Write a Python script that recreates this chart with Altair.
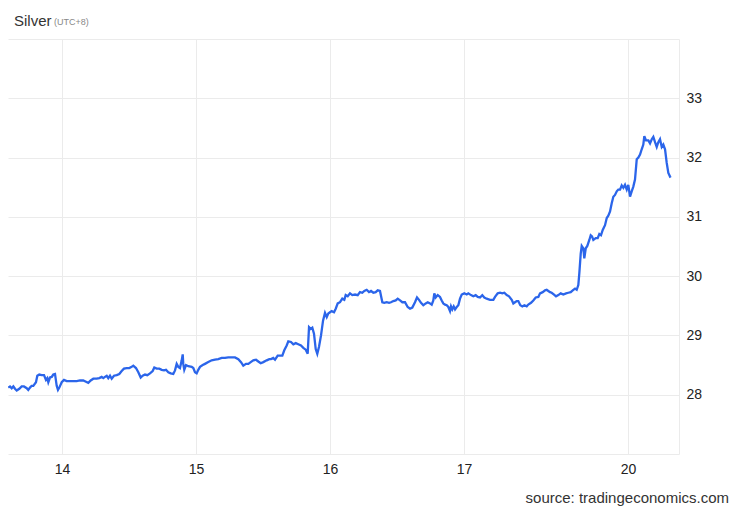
import altair as alt
import pandas as pd

# hours relative to midnight of the 14th (weekend removed, UTC+8)
hours = [
    -9.62, -9.31, -9.01, -8.72, -8.42, -8.11, -7.65, -7.22, -6.81, -6.32,
    -6.04, -5.73, -5.43, -5.14, -4.66, -4.42, -4.07, -3.64, -3.22, -2.87,
    -2.63, -2.45, -2.15, -1.84, -1.56, -1.25, -0.95, -0.72, -0.48, -0.05,
    0.36, 0.84, 1.43, 2.02, 2.63, 3.22, 3.81, 4.30, 4.71, 5.14,
    5.61, 6.21, 6.68, 7.11, 7.40, 7.70, 8.01, 8.29, 8.60, 8.90,
    9.31, 9.80, 10.26, 10.69, 11.10, 11.59, 12.05, 12.48, 12.77, 13.25,
    13.67, 14.10, 14.45, 14.87, 15.28, 15.76, 16.24, 16.53, 16.96, 17.43,
    17.86, 18.27, 18.63, 19.04, 19.47, 19.93, 20.24, 20.54, 20.83, 21.13,
    21.44, 21.62, 21.72, 21.90, 22.21, 22.62, 23.23, 23.52, 23.82, 24.12,
    24.41, 24.72, 25.20, 25.61, 26.20, 26.81, 27.40, 27.99, 28.60, 29.19,
    29.78, 30.39, 30.98, 31.58, 32.06, 32.47, 32.95, 33.37, 33.80, 34.26,
    34.75, 35.16, 35.59, 36.05, 36.66, 37.13, 37.43, 37.84, 38.15, 38.63,
    39.04, 39.46, 39.81, 40.24, 40.53, 41.01, 41.43, 41.86, 42.32, 42.80,
    43.22, 43.65, 44.00, 44.24, 44.54, 44.83, 45.13, 45.44, 45.72, 46.03,
    46.39, 46.75, 47.10, 47.41, 47.69, 48.00, 48.30, 48.72, 49.02, 49.38,
    49.79, 50.20, 50.56, 50.81, 51.17, 51.58, 51.99, 52.48, 52.96, 53.37,
    53.78, 54.14, 54.57, 54.98, 55.34, 55.75, 56.18, 56.54, 56.95, 57.37,
    57.72, 58.15, 58.57, 58.92, 59.34, 59.77, 60.12, 60.54, 60.95, 61.43,
    61.91, 62.33, 62.74, 63.22, 63.58, 63.94, 64.30, 64.71, 65.14, 65.50,
    65.91, 66.21, 66.50, 66.68, 66.93, 67.29, 67.70, 68.00, 68.29, 68.60,
    68.90, 69.19, 69.49, 69.67, 69.90, 70.15, 70.39, 70.69, 70.98, 71.28,
    71.59, 72.05, 72.48, 72.77, 73.25, 73.66, 74.09, 74.45, 74.86, 75.27,
    75.63, 76.06, 76.65, 77.25, 77.55, 78.03, 78.45, 78.86, 79.22, 79.65,
    80.06, 80.54, 80.83, 81.13, 81.44, 81.72, 82.08, 82.44, 82.80, 83.23,
    83.51, 84.00, 84.41, 84.84, 85.31, 85.61, 86.09, 86.51, 86.81, 87.10,
    87.40, 87.70, 88.12, 88.48, 88.89, 89.32, 89.78, 90.27, 90.68, 91.11,
    91.47, 91.88, 92.18, 92.47, 92.65, 92.90, 93.08, 93.37, 93.54, 93.80,
    94.08, 94.44, 94.69, 94.92, 95.16, 95.59, 95.94, 96.23, 96.53, 96.84,
    97.25, 97.56, 97.84, 98.15, 98.45, 98.74, 99.04, 99.35, 99.63, 99.94,
    100.24, 100.53, 100.83, 101.14, 101.42, 101.73, 102.03, 102.32, 102.62, 102.93,
    103.22, 103.52, 103.82, 104.11, 104.29, 104.59, 105.01, 105.31, 105.62, 105.90,
    106.21, 106.51, 106.80, 107.10, 107.41, 107.69, 108.00, 108.30, 108.59, 108.89,
    109.07,
]

prices = [
    28.12, 28.14, 28.11, 28.14, 28.10, 28.07, 28.10, 28.14, 28.14, 28.11,
    28.08, 28.12, 28.15, 28.15, 28.21, 28.32, 28.34, 28.33, 28.33, 28.25,
    28.28, 28.21, 28.29, 28.30, 28.34, 28.35, 28.15, 28.08, 28.12, 28.21,
    28.25, 28.23, 28.23, 28.23, 28.23, 28.24, 28.24, 28.22, 28.20, 28.24,
    28.27, 28.27, 28.28, 28.30, 28.28, 28.30, 28.32, 28.28, 28.32, 28.27,
    28.32, 28.33, 28.35, 28.40, 28.44, 28.45, 28.45, 28.47, 28.49, 28.45,
    28.38, 28.29, 28.32, 28.34, 28.33, 28.36, 28.40, 28.46, 28.44, 28.44,
    28.42, 28.41, 28.42, 28.38, 28.36, 28.35, 28.41, 28.52, 28.47, 28.45,
    28.58, 28.68, 28.52, 28.42, 28.50, 28.48, 28.47, 28.45, 28.38, 28.36,
    28.42, 28.47, 28.50, 28.52, 28.55, 28.58, 28.59, 28.60, 28.62, 28.62,
    28.63, 28.63, 28.63, 28.60, 28.55, 28.49, 28.52, 28.52, 28.55, 28.58,
    28.59, 28.56, 28.53, 28.55, 28.58, 28.60, 28.60, 28.62, 28.59, 28.66,
    28.66, 28.66, 28.75, 28.83, 28.90, 28.89, 28.85, 28.87, 28.85, 28.83,
    28.79, 28.76, 28.69, 29.14, 29.11, 29.13, 29.03, 28.77, 28.69, 28.81,
    29.00, 29.25, 29.38, 29.31, 29.37, 29.39, 29.41, 29.39, 29.45, 29.54,
    29.56, 29.62, 29.60, 29.68, 29.66, 29.71, 29.68, 29.69, 29.68, 29.73,
    29.72, 29.75, 29.77, 29.73, 29.75, 29.72, 29.73, 29.76, 29.75, 29.56,
    29.55, 29.56, 29.55, 29.56, 29.58, 29.59, 29.62, 29.59, 29.56, 29.56,
    29.48, 29.45, 29.47, 29.56, 29.64, 29.60, 29.55, 29.51, 29.54, 29.56,
    29.54, 29.52, 29.59, 29.71, 29.64, 29.68, 29.65, 29.59, 29.54, 29.52,
    29.51, 29.48, 29.41, 29.49, 29.44, 29.49, 29.44, 29.48, 29.51, 29.62,
    29.69, 29.71, 29.69, 29.71, 29.68, 29.66, 29.68, 29.65, 29.64, 29.68,
    29.64, 29.62, 29.60, 29.60, 29.65, 29.71, 29.72, 29.71, 29.72, 29.68,
    29.66, 29.60, 29.54, 29.56, 29.58, 29.58, 29.51, 29.49, 29.51, 29.49,
    29.52, 29.55, 29.59, 29.64, 29.65, 29.71, 29.73, 29.76, 29.77, 29.75,
    29.73, 29.72, 29.69, 29.66, 29.68, 29.71, 29.69, 29.71, 29.72, 29.73,
    29.76, 29.79, 29.77, 29.85, 30.05, 30.38, 30.51, 30.47, 30.30, 30.47,
    30.51, 30.61, 30.69, 30.67, 30.61, 30.64, 30.64, 30.71, 30.69, 30.78,
    30.86, 30.98, 31.02, 31.09, 31.23, 31.34, 31.37, 31.43, 31.46, 31.46,
    31.53, 31.49, 31.54, 31.46, 31.54, 31.34, 31.43, 31.51, 31.63, 31.97,
    32.00, 32.05, 32.14, 32.22, 32.36, 32.29, 32.29, 32.24, 32.31, 32.35,
    32.26, 32.18, 32.26, 32.31, 32.18, 32.22, 32.14, 31.91, 31.74, 31.68,
    31.69,
]

# x axis: day labels and where each day starts (hours), plus the right edge
x_tick_pos = [0, 24, 48, 72, 101.37, 110.5]
x_tick_labels = ["14", "15", "16", "17", "20", ""]
x_domain = [-9.67, 110.5]

y_ticks = [27, 28, 29, 30, 31, 32, 33, 34]
y_labelled = [28, 29, 30, 31, 32, 33]
y_domain = [27, 34]

title_text = "Silver"
tz_text = "(UTC+8)"
source_text = "source: tradingeconomics.com"

df = pd.DataFrame({"h": hours, "price": prices})

label_expr = ""
for p, l in zip(x_tick_pos, x_tick_labels):
    label_expr += f"datum.value == {p} ? '{l}' : "
label_expr += "''"

y_expr = f"datum.value >= {min(y_labelled)} && datum.value <= {max(y_labelled)} ? datum.label : ''"

FONT = "Liberation Sans"
W, H = 671, 415

line = alt.Chart(df).mark_line(color="#2b65ea", strokeWidth=2.3).encode(
    x=alt.X(
        "h:Q",
        scale=alt.Scale(domain=x_domain, nice=False, zero=False),
        axis=alt.Axis(
            values=x_tick_pos,
            labelExpr=label_expr,
            title=None,
            domain=False,
            ticks=False,
            labelPadding=8,
            labelFontSize=14,
            labelColor="#222222",
            labelFont=FONT,
            gridColor="#ebebeb",
            labelFlush=False,
            labelOverlap=False,
        ),
    ),
    y=alt.Y(
        "price:Q",
        scale=alt.Scale(domain=y_domain, nice=False, zero=False),
        axis=alt.Axis(
            orient="right",
            values=y_ticks,
            labelExpr=y_expr,
            title=None,
            domain=False,
            ticks=False,
            labelPadding=7,
            labelFontSize=14,
            labelColor="#222222",
            labelFont=FONT,
            gridColor="#ebebeb",
            labelOverlap=False,
        ),
    ),
)

one = pd.DataFrame({"k": [0]})

title = alt.Chart(one).mark_text(
    align="left", baseline="alphabetic", fontSize=15, font=FONT, color="#333333"
).encode(x=alt.value(6), y=alt.value(-13), text=alt.value(title_text))

tz = alt.Chart(one).mark_text(
    align="left", baseline="alphabetic", fontSize=9, font=FONT, color="#888888"
).encode(x=alt.value(46), y=alt.value(-14), text=alt.value(tz_text))

source = alt.Chart(one).mark_text(
    align="right", baseline="alphabetic", fontSize=15, font=FONT, color="#333333"
).encode(x=alt.value(721), y=alt.value(464), text=alt.value(source_text))

chart = (
    alt.layer(line, title, tz, source)
    .properties(
        width=W,
        height=H,
        autosize=alt.AutoSizeParams(type="none"),
        padding={"left": 0, "top": 31, "right": 52, "bottom": 54},
        background="white",
    )
    .configure_view(stroke=None)
)

chart.save("out.html", embed_options={"renderer": "svg", "actions": False})
